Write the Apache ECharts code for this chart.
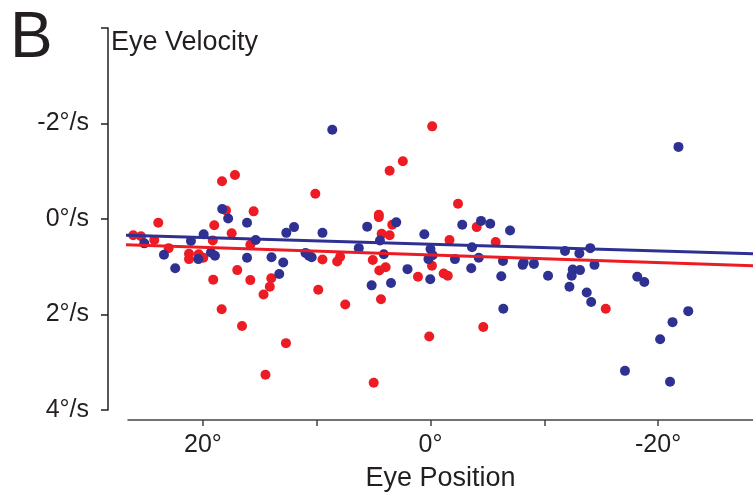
<!DOCTYPE html>
<html>
<head>
<meta charset="utf-8">
<script src="https://cdn.jsdelivr.net/npm/echarts@6/dist/echarts.min.js"></script>
<style>
html,body{margin:0;padding:0;background:#fff;}
#chart{width:753px;height:500px;}
</style>
</head>
<body>
<div id="chart"></div>
<script>
// Eye position (deg) and eye velocity (deg/s) for the two conditions
var redX = [26.12,25.44,24.27,23.92,23.01,21.22,21.22,20.37,19.96,19.13,19.0,18.32,17.18,17.97,17.47,19.09,18.35,16.98,16.56,15.54,15.83,15.83,14.67,14.12,13.99,14.50,12.70,10.12,9.86,9.49,8.20,7.94,7.49,4.99,5.07,4.54,4.54,4.29,3.59,3.36,3.59,2.43,4.50,3.94,4.35,1.10,-0.15,0.11,-0.13,-1.67,-2.42,-4.06,-5.73,-1.16,-1.52,-4.64,-15.40];
var redY = [0.34,0.36,0.44,0.08,0.61,0.73,0.84,0.74,0.81,0.45,0.13,-0.79,-0.92,-0.18,0.30,1.27,1.89,1.07,2.24,-0.16,0.54,1.28,1.58,1.42,1.24,3.26,2.60,-0.53,1.48,0.85,0.89,0.79,1.79,3.43,0.86,-0.09,-0.04,0.31,0.34,0.12,-1.01,-1.21,1.08,1.01,1.68,1.21,-1.94,2.46,0.98,0.44,-0.32,0.17,0.48,1.14,1.19,2.26,1.88];
var blueX = [25.15,23.42,22.43,21.05,19.93,20.40,19.29,18.94,18.30,17.78,16.12,15.36,16.12,13.97,13.29,12.94,12.67,11.99,10.98,10.68,10.44,9.49,8.63,6.30,5.56,5.17,4.44,4.10,3.47,3.01,2.02,0.54,0.0,0.18,-0.19,0.02,-2.15,-2.79,-3.65,-3.58,-4.44,-4.24,-5.25,-6.37,-6.22,-6.40,-6.99,-8.10,-8.19,-9.09,-10.33,-11.82,-13.08,-14.04,-12.50,-12.41,-13.14,-12.21,-13.73,-14.12,-14.41,-18.17,-18.79,-22.65,-21.27,-20.18,-17.09,-21.05,-21.79];
var blueY = [0.51,0.75,1.03,0.46,0.32,0.84,0.70,0.77,-0.21,-0.01,0.08,0.44,0.81,0.80,1.15,0.91,0.29,0.17,0.71,0.77,0.80,0.29,-1.87,0.61,0.16,1.39,0.45,0.74,1.34,0.07,1.05,0.32,0.63,0.84,0.76,1.26,0.84,0.12,0.59,1.03,0.04,0.81,0.10,0.88,1.20,1.88,0.24,0.96,0.91,0.94,1.19,0.67,0.72,0.61,1.06,1.19,1.07,1.42,1.54,1.74,0.96,1.21,1.32,1.93,2.16,2.52,3.18,3.41,-1.51];
// regression fit end points
var fitX = [27.9, -28.34];
var redFitY = [0.53, 0.98];
var blueFitY = [0.33, 0.73];
// axis ticks and labels
var xTicks = [-20, -10, 0, 10, 20];
var xLabels = [-20, 0, 20];
var yTicks = [-4, -2, 0, 2, 4];

var RED = '#ed1c24', BLUE = '#2e3192', INK = '#231f20';
var FONT = '"Liberation Sans", Arial, Helvetica, sans-serif';

function zip(a, b) { return a.map(function (v, i) { return [v, b[i]]; }); }

var chart = echarts.init(document.getElementById('chart'), null, {renderer: 'canvas'});
chart.setOption({
  animation: false,
  backgroundColor: '#fff',
  textStyle: {fontFamily: FONT, color: INK},
  title: [
    {text: 'B', left: 10, top: 7, padding: 0,
     textStyle: {fontFamily: FONT, fontSize: 64, fontWeight: 'normal', color: INK}},
    {text: 'Eye Velocity', left: 111, top: 29, padding: 0,
     textStyle: {fontFamily: FONT, fontSize: 27, fontWeight: 'normal', color: INK}}
  ],
  grid: {left: 128, right: 0, top: 28, bottom: 90, containLabel: false},
  xAxis: {
    type: 'value', inverse: true, min: -28.34, max: 26.58,
    offset: 10,
    splitLine: {show: false},
    axisLine: {show: true, onZero: false, lineStyle: {color: '#444', width: 1.5}},
    axisTick: {show: true, inside: false, length: 6, customValues: xTicks,
               lineStyle: {color: '#444', width: 1.5}},
    axisLabel: {customValues: xLabels, margin: 13, fontSize: 25, color: INK, fontFamily: FONT,
                formatter: function (v) { return v + '°'; }},
    name: 'Eye Position', nameLocation: 'middle', nameGap: 45,
    nameTextStyle: {fontSize: 27, color: INK, fontFamily: FONT}
  },
  yAxis: {
    type: 'value', inverse: true, min: -4, max: 4, interval: 2,
    offset: 20,
    splitLine: {show: false},
    axisLine: {show: true, onZero: false, lineStyle: {color: INK, width: 1.5}},
    axisTick: {show: true, inside: false, length: 7, customValues: yTicks,
               lineStyle: {color: INK, width: 1.5}},
    axisLabel: {margin: 19, fontSize: 25, color: INK, fontFamily: FONT,
                formatter: function (v) { return v === -4 ? '' : v + '°/s'; }}
  },
  series: [
    {type: 'scatter', name: 'red', data: zip(redX, redY), symbolSize: 10,
     itemStyle: {color: RED, opacity: 1}, z: 2, clip: false},
    {type: 'scatter', name: 'blue', data: zip(blueX, blueY), symbolSize: 10,
     itemStyle: {color: BLUE, opacity: 1}, z: 2, clip: false},
    {type: 'line', name: 'blueFit', data: zip(fitX, blueFitY), showSymbol: false, symbol: 'none',
     lineStyle: {color: BLUE, width: 3}, z: 3, clip: false},
    {type: 'line', name: 'redFit', data: zip(fitX, redFitY), showSymbol: false, symbol: 'none',
     lineStyle: {color: RED, width: 3}, z: 3, clip: false}
  ]
});
</script>
</body>
</html>
